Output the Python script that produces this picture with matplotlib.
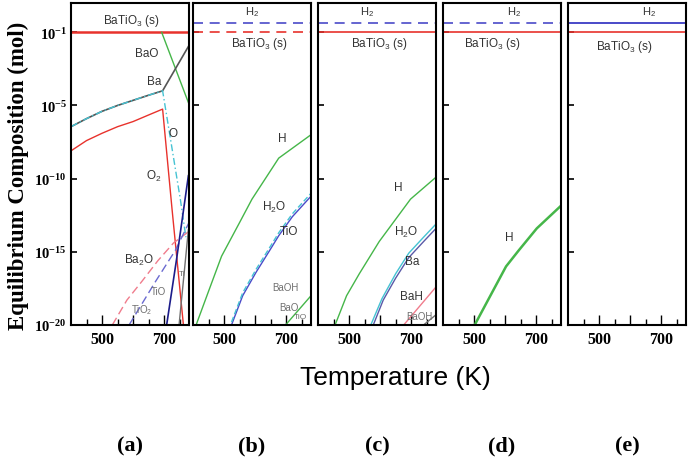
import numpy as np
import matplotlib.pyplot as plt

plt.rcParams["mathtext.fontset"] = "custom"
plt.rcParams["mathtext.rm"] = "Liberation Sans"
plt.rcParams["mathtext.it"] = "Liberation Sans"
plt.rcParams["mathtext.bf"] = "Liberation Serif:bold"

# ---- data (log10 of composition) ----
T_RANGE = (400, 780)
Y_TICKS = [1e0, 1e-5, 1e-10, 1e-15, 1e-20]
Y_TICK_LABELS = [r"$\mathbf{10^{-1}}$", r"$\mathbf{10^{-5}}$", r"$\mathbf{10^{-10}}$",
                 r"$\mathbf{10^{-15}}$", r"$\mathbf{10^{-20}}$"]
PANEL_LABELS = ["(a)", "(b)", "(c)", "(d)", "(e)"]

FLAT_T = [400, 780]
BATIO3_LOG = [0.0, 0.0]
H2_LOG = [0.6, 0.6]

# (a)
a_bao_T = [692, 778]
a_bao = [0.0, -4.8]
a_ba_T = [400, 450, 500, 550, 600, 650, 695, 780]
a_ba = [-6.45, -5.9, -5.4, -5.0, -4.65, -4.3, -4.0, -0.9]
a_o_T = [400, 450, 500, 550, 600, 650, 695, 752, 770]
a_o = [-6.45, -5.9, -5.4, -5.0, -4.65, -4.3, -4.0, -11.4, -14.0]
a_o2_T = [400, 450, 500, 550, 600, 650, 695, 725, 762]
a_o2 = [-8.1, -7.4, -6.9, -6.45, -6.1, -5.65, -5.25, -12.0, -20.0]
a_ba2o_T = [533, 580, 629, 680, 730, 780]
a_ba2o = [-20.0, -18.3, -17.0, -15.6, -14.4, -13.6]
a_tio_T = [587, 630, 673, 736, 780]
a_tio = [-20.0, -18.5, -17.0, -14.9, -13.0]
a_tio2_T = [708, 740, 778]
a_tio2 = [-20.0, -15.5, -9.8]
a_ti_T = [748, 778]
a_ti = [-20.0, -13.5]

# (b)
b_h_T = [410, 450, 492, 550, 590, 676, 780]
b_h = [-20.0, -17.7, -15.3, -13.0, -11.4, -8.6, -7.0]
b_tio_T = [524, 560, 603, 650, 676, 720, 780]
b_tio = [-20.0, -18.0, -16.4, -14.8, -13.9, -12.6, -11.2]
b_h2o = [-19.8, -17.8, -16.2, -14.6, -13.7, -12.4, -11.0]
b_bao_T = [698, 780]
b_bao = [-20.0, -18.0]

# (c)
c_h_T = [455, 492, 533, 597, 698, 780]
c_h = [-20.0, -18.0, -16.5, -14.3, -11.4, -9.9]
c_h2o_T = [570, 606, 650, 692, 740, 780]
c_h2o = [-20.0, -18.2, -16.5, -15.1, -14.0, -13.1]
c_ba_T = [578, 610, 650, 692, 740, 780]
c_ba = [-20.0, -18.3, -16.8, -15.4, -14.3, -13.4]
c_bah_T = [676, 780]
c_bah = [-20.0, -17.4]
c_baoh_T = [740, 780]
c_baoh = [-20.0, -19.3]

# (d)
d_h_T = [502, 603, 644, 702, 780]
d_h = [-20.0, -16.0, -14.9, -13.4, -11.85]

RED = "#e8322c"
GREEN = "#45b649"
BLUE = "#4a4ac8"
NAVY = "#1c1c8a"
CYAN = "#45c3d3"
PINK = "#f07c8c"
GRAY = "#707070"
TXT = "#333333"


def line(ax, T, logv, **kw):
    ax.plot(T, 10.0 ** np.asarray(logv), **kw)


def note(ax, T, logv, s, size=8, color=TXT):
    ax.text(T, 10.0 ** logv, s, fontsize=size, color=color, ha="center", va="center",
            family="Liberation Sans")


fig = plt.figure(figsize=(6.9, 4.64), dpi=100)
lefts = [71, 193, 318, 443, 568]
axes = []
for i, px in enumerate(lefts):
    ax = fig.add_axes([px / 690, 1 - 326 / 464, 118 / 690, 322 / 464])
    ax.set_yscale("log")
    ax.set_xlim(*T_RANGE)
    ax.set_ylim(1e-20, 1e2)
    ax.set_yticks(Y_TICKS)
    ax.minorticks_off()
    ax.set_yticklabels(Y_TICK_LABELS if i == 0 else [])
    ax.set_xticks([500, 600, 700])
    ax.set_xticklabels(["500", "", "700"], family="Liberation Serif",
                       fontweight="bold", fontsize=11.5)
    ax.set_xticks([450, 550, 650, 750], minor=True)
    ax.tick_params(axis="y", which="major", direction="in", length=4, width=1.2,
                   labelsize=10.5, pad=3)
    ax.tick_params(axis="x", which="major", direction="in", length=7, width=1.0, pad=4)
    ax.tick_params(axis="x", which="minor", direction="in", length=4, width=1.0)
    for sp in ax.spines.values():
        sp.set_linewidth(1.5)
    ax.text(0.5, -0.375, PANEL_LABELS[i], transform=ax.transAxes, ha="center",
            va="center", family="Liberation Serif", fontweight="bold", fontsize=16)
    axes.append(ax)

# (a)
ax = axes[0]
line(ax, FLAT_T, BATIO3_LOG, color=RED, lw=1.8)
line(ax, a_bao_T, a_bao, color=GREEN, lw=1.0)
line(ax, a_ba_T, a_ba, color="#555555", lw=1.2)
line(ax, a_o_T, a_o, color=CYAN, lw=1.0, ls=(0, (5, 2, 1, 2)))
line(ax, a_o2_T, a_o2, color=RED, lw=1.0)
line(ax, a_ba2o_T, a_ba2o, color=PINK, lw=1.0, ls=(0, (6, 3)))
line(ax, a_tio_T, a_tio, color="#6a6ad0", lw=1.0, ls=(0, (6, 3)))
line(ax, a_tio2_T, a_tio2, color=NAVY, lw=1.2)
line(ax, a_ti_T, a_ti, color=GRAY, lw=1.0)
note(ax, 594, 0.82, r"BaTiO$_3$ (s)", size=8.5)
note(ax, 644, -1.44, "BaO", size=8.5)
note(ax, 667, -3.3, "Ba", size=8.5)
note(ax, 730, -6.9, "O", size=8.5)
note(ax, 667, -9.8, r"O$_2$", size=8.5)
note(ax, 619, -15.5, r"Ba$_2$O", size=8.5)
note(ax, 683, -17.7, "TiO", size=7, color=GRAY)
note(ax, 629, -18.9, r"TiO$_2$", size=7, color=GRAY)
note(ax, 757, -16.5, "Ti", size=6, color=GRAY)

# (b)
ax = axes[1]
line(ax, FLAT_T, H2_LOG, color=BLUE, lw=1.2, ls=(0, (6, 4)))
line(ax, FLAT_T, BATIO3_LOG, color=RED, lw=1.2, ls=(0, (6, 4)))
line(ax, b_h_T, b_h, color=GREEN, lw=1.0)
line(ax, b_tio_T, b_tio, color=BLUE, lw=1.0)
line(ax, b_tio_T, b_h2o, color=CYAN, lw=1.0, ls=(0, (4, 2)))
line(ax, b_bao_T, b_bao, color=GREEN, lw=1.0)
note(ax, 590, 1.44, r"H$_2$")
note(ax, 613, -0.75, r"BaTiO$_3$ (s)", size=8.5)
note(ax, 686, -7.2, "H", size=8.5)
note(ax, 660, -11.9, r"H$_2$O", size=8.5)
note(ax, 708, -13.6, "TiO", size=8.5)
note(ax, 698, -17.4, "BaOH", size=7, color=GRAY)
note(ax, 708, -18.8, "BaO", size=7, color=GRAY)
note(ax, 745, -19.45, "TiO", size=6, color=GRAY)

# (c)
ax = axes[2]
line(ax, FLAT_T, H2_LOG, color=BLUE, lw=1.2, ls=(0, (6, 4)))
line(ax, FLAT_T, BATIO3_LOG, color=RED, lw=1.2)
line(ax, c_h_T, c_h, color=GREEN, lw=1.0)
line(ax, c_h2o_T, c_h2o, color=CYAN, lw=1.0)
line(ax, c_ba_T, c_ba, color="#5a5aa8", lw=1.0)
line(ax, c_bah_T, c_bah, color=PINK, lw=1.0)
line(ax, c_baoh_T, c_baoh, color=GRAY, lw=1.0)
note(ax, 559, 1.44, r"H$_2$")
note(ax, 597, -0.75, r"BaTiO$_3$ (s)", size=8.5)
note(ax, 660, -10.55, "H", size=8.5)
note(ax, 683, -13.6, r"H$_2$O", size=8.5)
note(ax, 702, -15.6, "Ba", size=8.5)
note(ax, 702, -18.0, "BaH", size=8.5)
note(ax, 726, -19.4, "BaOH", size=7, color=GRAY)

# (d)
ax = axes[3]
line(ax, FLAT_T, H2_LOG, color=BLUE, lw=1.2, ls=(0, (6, 4)))
line(ax, FLAT_T, BATIO3_LOG, color=RED, lw=1.2)
line(ax, d_h_T, d_h, color=GREEN, lw=1.8)
note(ax, 629, 1.44, r"H$_2$")
note(ax, 559, -0.75, r"BaTiO$_3$ (s)", size=8.5)
note(ax, 613, -14.0, "H", size=8.5)

# (e)
ax = axes[4]
line(ax, FLAT_T, H2_LOG, color=BLUE, lw=1.4)
line(ax, FLAT_T, BATIO3_LOG, color=RED, lw=1.2)
note(ax, 660, 1.44, r"H$_2$")
note(ax, 581, -0.96, r"BaTiO$_3$ (s)", size=8.5)

fig.text(18 / 690, 1 - 176 / 464, "Equilibrium Composition (mol)", rotation=90,
         ha="center", va="center", family="Liberation Serif", fontweight="bold",
         fontsize=16.5)
fig.text(395 / 690, 1 - 378 / 464, "Temperature (K)", ha="center", va="center",
         family="Liberation Sans", fontsize=19)

fig.savefig("out.png", dpi=100)
